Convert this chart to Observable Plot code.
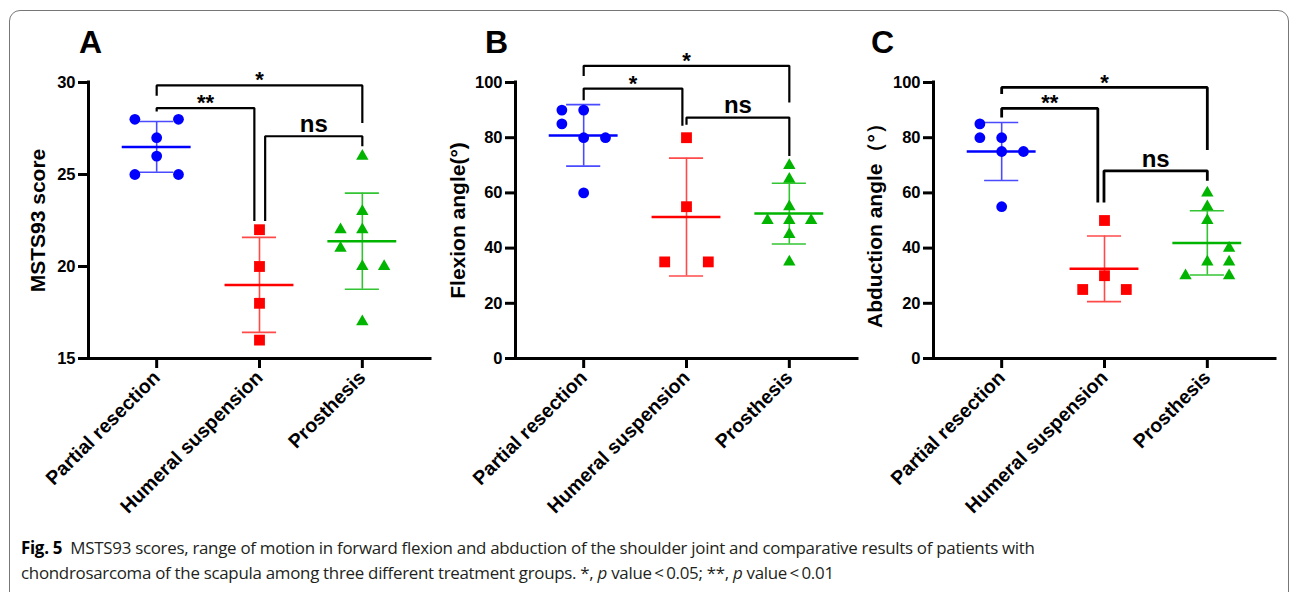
<!DOCTYPE html>
<html>
<head>
<meta charset="utf-8">
<script src="https://cdn.jsdelivr.net/npm/d3@7"></script>
<script src="https://cdn.jsdelivr.net/npm/@observablehq/plot@0.6"></script>
<style>
  html, body { margin: 0; padding: 0; background: #fff; }
  #wrap { position: relative; width: 1292px; height: 592px; overflow: hidden; background: #fff; }
  #border { position: absolute; left: 9px; top: 10px; width: 1280px; height: 620px; border: 1px solid #777; border-radius: 11px; box-sizing: border-box; }
  .panel { position: absolute; top: 0; }
  #caption { position: absolute; left: 21px; top: 535px; width: 1260px; font-family: "Open Sans", "Noto Sans", sans-serif; font-size: 16.9px; line-height: 25px; color: #231f20; letter-spacing: -0.28px; white-space: nowrap; }
  #caption b { color: #000; }
</style>
</head>
<body>
<div id="wrap">
  <div id="border"></div>
  <div id="pA" class="panel" style="left:8px"></div>
  <div id="pB" class="panel" style="left:435px"></div>
  <div id="pC" class="panel" style="left:853px"></div>
  <div id="caption"><b>Fig. 5</b>&nbsp; MSTS93 scores, range of motion in forward flexion and abduction of the shoulder joint and comparative results of patients with<br>chondrosarcoma of the scapula among three different treatment groups. *, <i>p</i> value&thinsp;&lt;&thinsp;0.05; **, <i>p</i> value&thinsp;&lt;&thinsp;0.01</div>
</div>
<script>
// ---- categories & styling keys ----
const groups = ["Partial resection", "Humeral suspension", "Prosthesis"];
const groupColors = ["#0000ff", "#ff0000", "#00b400"];
const errColors = ["#4a4aff", "#ff4a4a", "#33c433"];
const groupSymbols = ["circle", "square", "triangle"];

// ---- Panel A: MSTS93 score ----
const mstsPartial = [28, 28, 27, 26, 25, 25];
const mstsHumeral = [22, 20, 18, 16];
const mstsProsthesis = [26, 23, 22, 22, 21, 20, 20, 17];
// scatter column of each point (-1 left, 0 centre, 1 right)
const mstsPartialCol = [-1, 1, 0, 0, -1, 1];
const mstsHumeralCol = [0, 0, 0, 0];
const mstsProsthesisCol = [0, 0, -1, 0, -1, 0, 1, 0];
const mstsTicks = [15, 20, 25, 30];
// brackets: [x1, x2, y, yLeftEnd, yRightEnd, label]
const mstsBrackets = [[0, 2, 29.84, 29.28, 27.8, "*"], [0, 0.95, 28.61, 28.43, 22.47, "**"], [1.055, 2, 27.08, 22.47, 26.53, "ns"]];

// ---- Panel B: Flexion angle ----
const flexPartial = [90, 90, 85, 80, 80, 60];
const flexHumeral = [80, 55, 35, 35];
const flexProsthesis = [70, 65, 55, 50, 50, 50, 45, 35];
const flexPartialCol = [-1, 0, -1, 0, 1, 0];
const flexHumeralCol = [0, 0, -1, 1];
const flexProsthesisCol = [0, 0, 0, -1, 0, 1, 0, 0];
const angleTicks = [0, 20, 40, 60, 80, 100];
const flexBrackets = [[0, 2, 106.05, 102.4, 92.75, "*"], [0, 0.96, 97.8, 93.6, 84.3, "*"], [1, 2, 87.3, 84.7, 73.4, "ns"]];

// ---- Panel C: Abduction angle ----
const abdPartial = [85, 80, 80, 75, 75, 55];
const abdHumeral = [50, 30, 25, 25];
const abdProsthesis = [60, 55, 50, 40, 35, 35, 30, 30];
const abdPartialCol = [-1, -1, 0, 0, 1, 0];
const abdHumeralCol = [0, 0, -1, 1];
const abdProsthesisCol = [0, 0, 0, 1, 0, 1, -1, 1];
const abdBrackets = [[0, 2, 98.2, 95.8, 75.5, "*"], [0, 0.935, 90.6, 87.3, 56.5, "**"], [0.995, 2, 68.0, 56.5, 64.4, "ns"]];

const XDOM = [-0.663, 2.663];
const COL = 0.212;   // scatter column spacing (x units)
const MEANW = 0.335; // half-width of mean line
const CAPW = 0.166;  // half-width of SD caps
const dotR = [5.4, 6.1, 4.6];

function panel({values, cols, yDomain, yTicks, title, titleDx, letter, letterDx, brackets, bw}) {
  const stats = values.map((arr, g) => ({g, mean: d3.mean(arr), sd: d3.deviation(arr)}));
  const pts = values.map((arr, g) => arr.map((v, i) => ({g, v, x: g + cols[g][i] * COL})));
  const bracketPath = brackets.flatMap((b, k) => [
    {k, x: b[0], y: b[3]}, {k, x: b[0], y: b[2]}, {k, x: b[1], y: b[2]}, {k, x: b[1], y: b[4]}
  ]);
  const marks = [
    Plot.axisY({ticks: yTicks, tickSize: 10, tickPadding: 3, fontSize: 16.5, strokeWidth: 3, label: null}),
    Plot.axisX({ticks: [0, 1, 2], tickFormat: i => groups[i], tickRotate: -45, tickSize: 10, tickPadding: 6, fontSize: 19.5, strokeWidth: 3, label: null}),
    Plot.ruleX([XDOM[0]], {strokeWidth: 3, strokeLinecap: "square"}),
    Plot.ruleY([yDomain[0]], {strokeWidth: 3, strokeLinecap: "square"}),
    Plot.text([title], {frameAnchor: "left", dx: titleDx, rotate: -90, fontSize: 21, textAnchor: "middle", lineAnchor: "middle"}),
    Plot.text([letter], {frameAnchor: "top-left", dx: letterDx, dy: -40, fontSize: 32, textAnchor: "middle", lineAnchor: "middle"}),
    Plot.line(bracketPath, {x: "x", y: "y", z: "k", strokeWidth: bw, strokeLinejoin: "miter", strokeLinecap: "butt"}),
    Plot.text(brackets.filter(b => b[5] !== "ns"), {x: b => (b[0] + b[1]) / 2, y: b => b[2], text: b => b[5], fontSize: 22, dy: -5, lineAnchor: "middle"}),
    Plot.text(brackets.filter(b => b[5] === "ns"), {x: b => (b[0] + b[1]) / 2, y: b => b[2], text: b => b[5], fontSize: 24, dy: -12, lineAnchor: "middle"})
  ];
  stats.forEach(s => {
    const st = [s];
    marks.push(
      Plot.ruleX(st, {x: "g", y1: d => d.mean - d.sd, y2: d => d.mean + d.sd, stroke: errColors[s.g], strokeWidth: 1.6}),
      Plot.ruleY(st, {y: d => d.mean + d.sd, x1: d => d.g - CAPW, x2: d => d.g + CAPW, stroke: errColors[s.g], strokeWidth: 1.6}),
      Plot.ruleY(st, {y: d => d.mean - d.sd, x1: d => d.g - CAPW, x2: d => d.g + CAPW, stroke: errColors[s.g], strokeWidth: 1.6}),
      Plot.ruleY(st, {y: "mean", x1: d => d.g - MEANW, x2: d => d.g + MEANW, stroke: groupColors[s.g], strokeWidth: 2.5})
    );
  });
  pts.forEach((p, g) => {
    marks.push(Plot.dot(p, {x: "x", y: "v", symbol: groupSymbols[g], fill: groupColors[g], r: dotR[g]}));
  });
  return Plot.plot({
    width: 430, height: 530,
    marginLeft: 80, marginRight: 8, marginTop: 82, marginBottom: 172,
    x: {domain: XDOM},
    y: {domain: yDomain},
    style: {fontFamily: "'Liberation Sans', Arial, Helvetica, sans-serif", fontWeight: "bold", color: "#000", background: "transparent", overflow: "visible"},
    marks
  });
}

document.getElementById("pA").append(panel({
  values: [mstsPartial, mstsHumeral, mstsProsthesis],
  cols: [mstsPartialCol, mstsHumeralCol, mstsProsthesisCol],
  yDomain: [15, 30], yTicks: mstsTicks, title: "MSTS93 score", titleDx: -50,
  letter: "A", letterDx: 2, brackets: mstsBrackets, bw: 2.2
}));
document.getElementById("pB").append(panel({
  values: [flexPartial, flexHumeral, flexProsthesis],
  cols: [flexPartialCol, flexHumeralCol, flexProsthesisCol],
  yDomain: [0, 100], yTicks: angleTicks, title: "Flexion angle(°)", titleDx: -57,
  letter: "B", letterDx: -19, brackets: flexBrackets, bw: 2.2
}));
document.getElementById("pC").append(panel({
  values: [abdPartial, abdHumeral, abdProsthesis],
  cols: [abdPartialCol, abdHumeralCol, abdProsthesisCol],
  yDomain: [0, 100], yTicks: angleTicks, title: "Abduction angle（°）", titleDx: -58,
  letter: "C", letterDx: -51, brackets: abdBrackets, bw: 2.8
}));
</script>
</body>
</html>
